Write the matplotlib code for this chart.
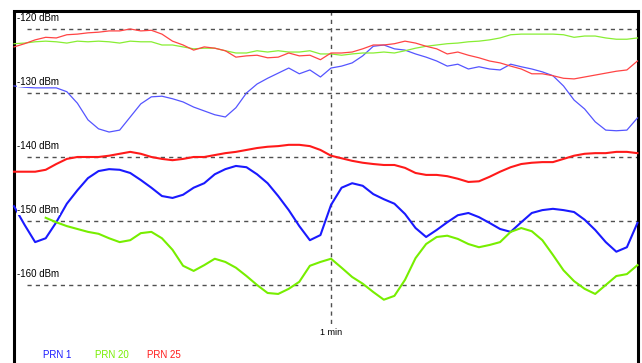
import numpy as np
import matplotlib
matplotlib.use("Agg")
import matplotlib.pyplot as plt

# time axis, one sample every 2 s
seconds = np.arange(0, 120, 2)

# upper trace (thin lines)
prn1_upper = [-128.9, -129.1, -129.2, -129.2, -129.2, -129.8, -131.6, -134.2, -135.6, -136.1,
              -135.8, -133.75, -131.7, -130.6, -130.5, -130.9, -131.4, -132.2, -132.8, -133.4,
              -133.75, -132.3, -130.0, -128.6, -127.7, -126.9, -126.1, -127.0, -126.4, -127.5,
              -126.1, -125.8, -125.3, -124.2, -122.7, -122.5, -123.1, -123.3, -123.9, -124.4,
              -125.0, -125.8, -125.5, -126.25, -125.9, -126.25, -126.4, -125.5, -125.9, -126.25,
              -126.7, -127.3, -128.9, -131.1, -132.5, -134.5, -135.8, -135.9, -135.8, -133.9]
prn20_upper = [-122.3, -122.2, -122.0, -121.9, -122.0, -122.2, -121.9, -122.0, -121.9, -122.0,
               -122.2, -121.9, -122.0, -122.0, -122.5, -122.5, -122.8, -123.1, -123.0, -123.0,
               -123.4, -123.75, -123.75, -123.4, -123.6, -123.4, -123.6, -123.6, -123.4, -123.9,
               -123.9, -124.1, -123.9, -123.75, -123.75, -123.6, -123.75, -123.4, -123.0, -122.7,
               -122.5, -122.3, -122.2, -122.0, -121.9, -121.7, -121.4, -120.9, -120.8, -120.8,
               -120.8, -120.8, -120.9, -121.3, -121.1, -121.1, -121.4, -121.6, -121.6, -121.4]
prn25_upper = [-122.8, -122.3, -121.7, -121.3, -121.4, -120.9, -120.8, -120.6, -120.5, -120.3,
               -120.3, -120.0, -120.3, -120.2, -120.8, -121.9, -122.5, -123.3, -122.8, -123.0,
               -123.4, -124.4, -124.2, -124.1, -124.5, -124.4, -123.75, -124.2, -124.1, -124.8,
               -123.75, -123.75, -123.6, -123.1, -122.5, -122.5, -122.3, -121.9, -122.2, -122.7,
               -123.1, -123.9, -123.6, -124.1, -124.5, -125.0, -125.3, -125.8, -126.25, -127.0,
               -127.0, -127.3, -127.7, -127.8, -127.5, -127.2, -126.9, -126.6, -126.4, -125.0]

# lower trace (thick lines)
prn1_lower = [-147.7, -150.6, -153.3, -152.7, -150.2, -147.3, -145.2, -143.3, -142.2, -141.9,
              -142.0, -142.5, -143.6, -144.8, -146.1, -146.4, -145.9, -144.8, -144.1, -142.7,
              -141.9, -141.4, -141.6, -142.7, -144.1, -146.1, -148.3, -150.8, -153.0, -152.2,
              -147.5, -144.8, -144.1, -144.5, -145.8, -146.6, -147.3, -148.9, -151.1, -152.5,
              -151.4, -150.2, -149.1, -148.75, -149.4, -150.3, -151.25, -151.7, -150.2, -148.75,
              -148.3, -148.1, -148.3, -148.6, -149.8, -151.4, -153.3, -154.8, -154.1, -150.3]
prn20_lower = [np.nan, np.nan, np.nan, -149.5, -150.2, -150.8, -151.25, -151.7, -152.0, -152.7,
               -153.3, -153.0, -151.9, -151.7, -152.7, -154.5, -157.0, -157.8, -156.9, -155.9,
               -156.4, -157.3, -158.6, -160.0, -161.25, -161.4, -160.6, -159.5, -157.0, -156.4,
               -155.9, -157.3, -158.75, -159.8, -161.1, -162.3, -161.7, -159.2, -155.8, -153.6,
               -152.5, -152.3, -152.8, -153.6, -154.1, -153.75, -153.3, -151.7, -151.1, -151.6,
               -153.0, -155.3, -157.7, -159.4, -160.6, -161.4, -160.0, -158.6, -158.3, -156.9]
prn25_lower = [-142.3, -142.3, -142.3, -142.0, -141.1, -140.3, -140.0, -140.0, -140.0, -139.8,
               -139.5, -139.2, -139.5, -140.0, -140.3, -140.5, -140.3, -140.0, -140.0, -139.7,
               -139.4, -139.2, -138.9, -138.6, -138.4, -138.3, -138.1, -138.1, -138.3, -138.9,
               -139.8, -140.2, -140.6, -140.9, -141.1, -141.25, -141.25, -141.7, -142.5, -142.8,
               -142.8, -143.0, -143.4, -143.9, -143.8, -143.1, -142.3, -141.6, -141.1, -140.9,
               -140.8, -140.8, -140.3, -139.8, -139.5, -139.4, -139.4, -139.2, -139.2, -139.4]

levels = [-120, -130, -140, -150, -160]
level_labels = ["-120 dBm", "-130 dBm", "-140 dBm", "-150 dBm", "-160 dBm"]
legend_names = ["PRN 1", "PRN 20", "PRN 25"]

blue = "#1a1aff"
green = "#77ee00"
red = "#ff1a1a"

fig = plt.figure(figsize=(6.42, 3.63), dpi=100)
ax = fig.add_axes([0, 0, 1, 1])
ax.set_xlim(-2.65, 118.86)
ax.set_ylim(-172.19, -115.47)
ax.axis("off")

font = "Liberation Sans"

# black frame (open at the bottom)
ax.plot([0, 0], [-117.19, -175], color="black", lw=2.2, solid_capstyle="butt", clip_on=False)
ax.plot([118.1, 118.1], [-117.19, -175], color="black", lw=2.2, solid_capstyle="butt", clip_on=False)
ax.plot([0, 118.1], [-117.19, -117.19], color="black", lw=2.2, solid_capstyle="projecting")

# reference levels
for lev, lab in zip(levels, level_labels):
    ax.plot([2.46, 118.1], [lev, lev], color="#505050", lw=1.0, dashes=(3, 3), zorder=1)
    ax.text(0.6, lev + 1.7, lab, fontsize=7, family=font, color="black", va="center", ha="left",
            zorder=5, bbox=dict(facecolor="white", edgecolor="none", pad=0.3))

# one minute marker
ax.plot([60, 60], [-117.19, -166.3], color="#505050", lw=1.0, dashes=(3, 3), zorder=1)
ax.text(60, -167.4, "1 min", fontsize=6.5, family=font, ha="center", va="center")

# upper (thin) traces
ax.plot(seconds, prn1_upper, color="#5555ff", lw=0.9, zorder=3)
ax.plot(seconds, prn20_upper, color="#88ee33", lw=0.9, zorder=3)
ax.plot(seconds, prn25_upper, color="#ff4444", lw=0.9, zorder=3)

# lower (thick) traces
ax.plot(seconds, prn1_lower, color=blue, lw=1.5, zorder=3)
ax.plot(seconds, prn20_lower, color=green, lw=1.5, zorder=3)
ax.plot(seconds, prn25_lower, color=red, lw=1.5, zorder=3)

# legend texts
for name, xpos, col in zip(legend_names, [5.49, 15.33, 25.17], [blue, green, red]):
    ax.text(xpos, -170.94, name, fontsize=7, family=font, color=col, ha="left", va="center")

fig.savefig("out.png", dpi=100, facecolor="white")
